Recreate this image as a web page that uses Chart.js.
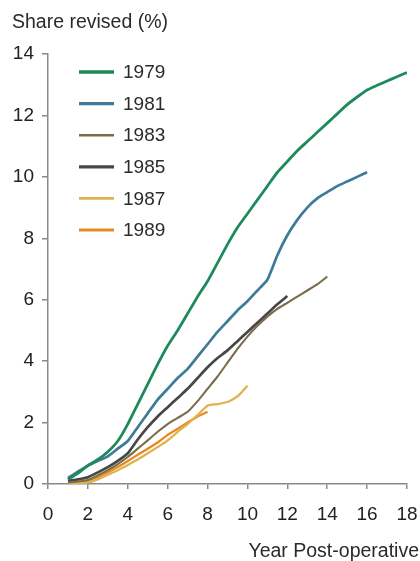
<!DOCTYPE html>
<html>
<head>
<meta charset="utf-8">
<script src="https://cdn.jsdelivr.net/npm/chart.js@4/dist/chart.umd.min.js"></script>
<style>
  html, body { margin: 0; padding: 0; background: #ffffff; }
  #wrap { position: relative; width: 420px; height: 561px; }
</style>
</head>
<body>
<div id="wrap"><canvas id="chart" width="420" height="561"></canvas></div>
<script>
// Cumulative share of implants revised, by year of operation
const cohorts = ['1979', '1981', '1983', '1985', '1987', '1989'];

// Follow-up years, half-year steps starting one year after the operation
const halfYears = [1, 1.5, 2, 2.5, 3, 3.5, 4, 4.5, 5, 5.5, 6, 6.5, 7, 7.5, 8, 8.5, 9, 9.5,
  10, 10.5, 11, 11.5, 12, 12.5, 13, 13.5, 14, 14.5, 15, 15.5, 16, 16.5, 17, 17.5, 18];

const revised1979 = [0.15, 0.35, 0.6, 0.8, 1.05, 1.4, 1.95, 2.6, 3.25, 3.9, 4.5, 5.0, 5.55, 6.1, 6.6, 7.2, 7.8, 8.35,
  8.8, 9.25, 9.7, 10.15, 10.5, 10.85, 11.15, 11.45, 11.75, 12.05, 12.35, 12.6, 12.83, 12.98, 13.12, 13.26, 13.4];
const revised1981 = [0.2, 0.4, 0.6, 0.75, 0.9, 1.15, 1.4, 1.85, 2.3, 2.75, 3.1, 3.45, 3.75, 4.15, 4.55, 4.95, 5.3, 5.65,
  5.95, 6.3, 6.65, 7.45, 8.1, 8.6, 9.0, 9.3, 9.5, 9.7, 9.85, 10.0, 10.15];
const revised1983 = [0.05, 0.08, 0.13, 0.28, 0.45, 0.65, 0.88, 1.15, 1.42, 1.7, 1.95, 2.15, 2.35, 2.7, 3.1, 3.5, 3.95, 4.4,
  4.8, 5.15, 5.45, 5.7, 5.9, 6.1, 6.3, 6.5, 6.75];
const revised1985 = [0.1, 0.15, 0.22, 0.38, 0.55, 0.75, 1.0, 1.45, 1.85, 2.2, 2.5, 2.8, 3.1, 3.45, 3.8, 4.1, 4.35, 4.65,
  4.95, 5.25, 5.55, 5.85, 6.12];
const revised1987 = [0.0, 0.02, 0.05, 0.15, 0.3, 0.45, 0.62, 0.8, 1.0, 1.2, 1.42, 1.7, 1.95, 2.25, 2.55, 2.6, 2.67, 2.85,
  3.2];
const revised1989 = [0.0, 0.03, 0.1, 0.22, 0.38, 0.55, 0.75, 0.95, 1.15, 1.35, 1.6, 1.8, 2.0, 2.2, 2.35];

const xTicks = [0, 2, 4, 6, 8, 10, 12, 14, 16, 18];
const yTicks = [0, 2, 4, 6, 8, 10, 12, 14];

const seriesValues = [revised1979, revised1981, revised1983, revised1985, revised1987, revised1989];
const seriesColors = ['#1d8a5c', '#3f7a98', '#7a6c4c', '#474747', '#e0b24e', '#e68a22'];
const seriesWidths = [2.8, 2.7, 2.1, 2.7, 2.3, 2.3];

const FONT = '"Liberation Sans", Arial, sans-serif';
const AXIS_GREY = '#8a8a8a';

const datasets = cohorts.map((name, i) => ({
  label: name,
  data: seriesValues[i].map((v, k) => ({ x: halfYears[k], y: v })),
  borderColor: seriesColors[i],
  backgroundColor: seriesColors[i],
  borderWidth: seriesWidths[i],
  pointRadius: 0,
  tension: 0.15,
  fill: false
}));

// Axis titles and the cohort key, drawn on the canvas
const annotations = {
  id: 'annotations',
  afterDraw(chart) {
    const ctx = chart.ctx;
    const area = chart.chartArea;
    ctx.save();
    ctx.fillStyle = '#2a2a2a';
    ctx.font = '19.5px ' + FONT;
    ctx.textBaseline = 'alphabetic';
    ctx.textAlign = 'left';
    ctx.fillText('Share revised (%)', 12, 28);
    ctx.textAlign = 'right';
    ctx.fillText('Year Post-operative', 419, 557);

    // key: short line swatch followed by the cohort year
    const startY = area.top + 18;
    const step = 31.6;
    ctx.textAlign = 'left';
    ctx.textBaseline = 'middle';
    chart.data.datasets.forEach((ds, i) => {
      const y = startY + i * step;
      ctx.strokeStyle = ds.borderColor;
      ctx.lineWidth = ds.borderWidth + 0.5;
      ctx.beginPath();
      ctx.moveTo(area.left + 31, y);
      ctx.lineTo(area.left + 66, y);
      ctx.stroke();
      ctx.fillStyle = '#2a2a2a';
      ctx.font = '19px ' + FONT;
      ctx.fillText(ds.label, area.left + 75, y + 1);
    });
    ctx.restore();
  }
};

new Chart(document.getElementById('chart'), {
  type: 'line',
  data: { datasets },
  plugins: [annotations],
  options: {
    responsive: false,
    animation: false,
    layout: { padding: { top: 54, right: 0, left: 0, bottom: 0 } },
    plugins: {
      legend: { display: false },
      tooltip: { enabled: false }
    },
    scales: {
      x: {
        type: 'linear',
        min: 0,
        max: 18,
        afterFit(axis) {
          axis.height = 77;
          axis.paddingLeft = 0;
          axis.paddingRight = 13;
        },
        afterBuildTicks(axis) { axis.ticks = xTicks.map(v => ({ value: v })); },
        border: { display: true, color: AXIS_GREY, width: 1.5 },
        grid: { drawOnChartArea: false, drawTicks: true, tickLength: 5, color: AXIS_GREY, lineWidth: 1.5 },
        ticks: { color: '#222', font: { family: FONT, size: 19 }, padding: 14, maxRotation: 0 }
      },
      y: {
        min: 0,
        max: 14,
        afterFit(axis) { axis.width = 48; },
        afterBuildTicks(axis) { axis.ticks = yTicks.map(v => ({ value: v })); },
        border: { display: true, color: AXIS_GREY, width: 1.5 },
        grid: { drawOnChartArea: false, drawTicks: true, tickLength: 6, color: AXIS_GREY, lineWidth: 1.5 },
        ticks: { color: '#222', font: { family: FONT, size: 19 }, padding: 8 }
      }
    }
  }
});
</script>
</body>
</html>
